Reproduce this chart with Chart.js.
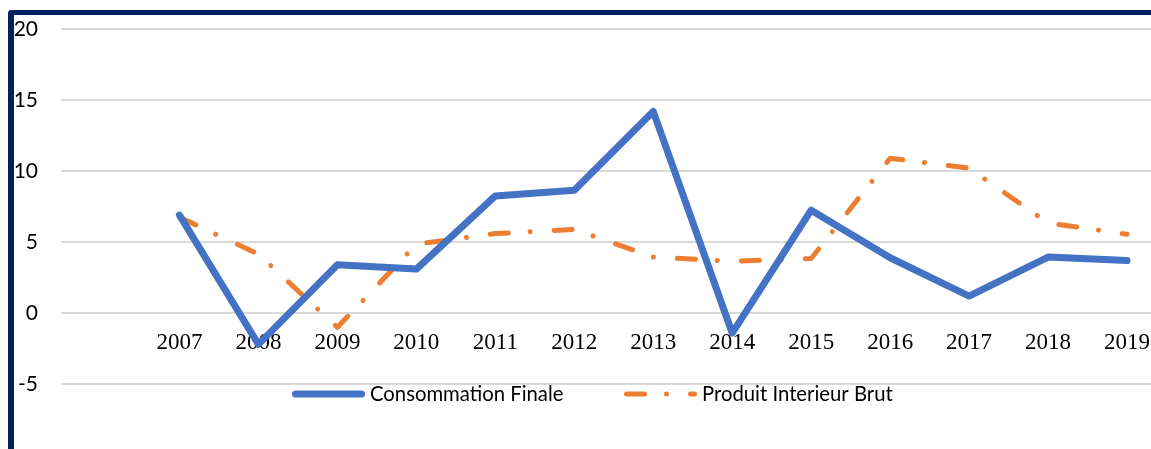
<!DOCTYPE html>
<html>
<head>
<meta charset="utf-8">
<script src="https://cdn.jsdelivr.net/npm/chart.js@4.4.1/dist/chart.umd.min.js"></script>
<style>
  html, body { margin: 0; padding: 0; background: #fff; overflow: hidden; width: 1151px; height: 449px; }
  #frame { position: absolute; left: 8px; top: 10px; width: 1200px; height: 500px;
    border-left: 6px solid #002060; border-top: 5px solid #002060; border-top-left-radius: 4px; box-sizing: border-box; }
  #wrap { position: absolute; left: 0; top: 0; width: 1170px; height: 460px; }
  #c { display: block; width: 1170px; height: 460px; }
</style>
</head>
<body>
<div id="frame"></div>
<div id="wrap"><canvas id="c" width="1170" height="460" style="width:1170px;height:460px"></canvas></div>
<script>
const years = ['2007','2008','2009','2010','2011','2012','2013','2014','2015','2016','2017','2018','2019'];
const consommationFinale = [6.9, -2.2, 3.4, 3.1, 8.25, 8.65, 14.2, -1.4, 7.25, 3.9, 1.2, 3.95, 3.7];
const produitInterieurBrut = [6.75, 4.15, -1.0, 4.85, 5.6, 5.9, 3.95, 3.65, 3.85, 10.9, 10.2, 6.35, 5.55];
const yTicks = [-10, -5, 0, 5, 10, 15, 20];

const labels = [''].concat(years);
const legendPlugin = {
  id: 'customLegend',
  afterDraw(chart) {
    const ctx = chart.ctx;
    const starts = [292, 624];
    const y = 394;
    ctx.save();
    chart.data.datasets.forEach((ds, i) => {
      const x0 = starts[i];
      ctx.beginPath();
      ctx.strokeStyle = ds.borderColor;
      ctx.lineWidth = ds.borderWidth;
      ctx.lineCap = 'round';
      ctx.setLineDash(ds.borderDash || []);
      ctx.moveTo(x0 + ds.borderWidth / 2, y);
      ctx.lineTo(x0 + 73 - ds.borderWidth / 2, y);
      ctx.stroke();
      ctx.setLineDash([]);
      ctx.fillStyle = '#000';
      ctx.font = '20.3px Lato';
      ctx.textBaseline = 'middle';
      ctx.textAlign = 'left';
      ctx.fillText(ds.label, x0 + 78, y);
    });
    ctx.restore();
  }
};

new Chart(document.getElementById('c'), {
  type: 'line',
  data: {
    labels: labels,
    datasets: [
      { label: 'Consommation Finale', data: [null].concat(consommationFinale),
        borderColor: '#4472C4', backgroundColor: '#4472C4', borderWidth: 7,
        pointRadius: 0, tension: 0, borderJoinStyle: 'round', borderCapStyle: 'round' },
      { label: 'Produit Interieur Brut', data: [null].concat(produitInterieurBrut),
        borderColor: '#ED7D31', backgroundColor: '#ED7D31', borderWidth: 5,
        borderDash: [18, 22, 0.01, 24],
        pointRadius: 0, tension: 0, borderJoinStyle: 'round', borderCapStyle: 'round' }
    ]
  },
  options: {
    responsive: false,
    animation: false,
    devicePixelRatio: 1,
    layout: { autoPadding: false, padding: { top: 29, right: 3.5, bottom: 4.8, left: 0 } },
    plugins: { legend: { display: false }, tooltip: { enabled: false } },
    scales: {
      x: {
        type: 'category',
        position: { y: 0 },
        offset: true,
        afterFit(scale) { scale.height = 0; scale.paddingTop = 0; scale.paddingBottom = 0; scale.paddingLeft = 0; scale.paddingRight = 0; },
        grid: { display: false, drawTicks: false },
        border: { display: false },
        ticks: { autoSkip: false, maxRotation: 0, minRotation: 0, padding: 16,
          color: '#000', font: { family: 'Liberation Serif', size: 23 } }
      },
      y: {
        min: -10, max: 20,
        afterBuildTicks(scale) { scale.ticks = yTicks.map(v => ({ value: v })); },
        afterFit(scale) { scale.width = 61; scale.paddingTop = 0; scale.paddingBottom = 0; },
        grid: { color: '#D9D9D9', lineWidth: 2, drawTicks: false },
        border: { display: false },
        ticks: { padding: 23, color: '#000', font: { family: 'Lato', size: 21 },
          callback: (v) => v === -10 ? '' : String(v) }
      }
    }
  },
  plugins: [legendPlugin]
});
</script>
</body>
</html>
